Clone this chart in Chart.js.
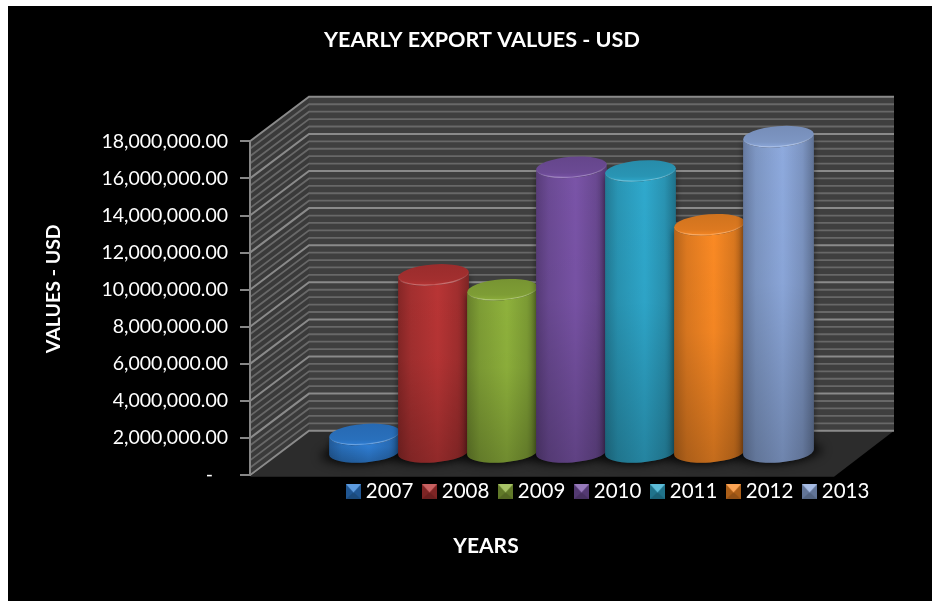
<!DOCTYPE html>
<html>
<head>
<meta charset="utf-8">
<title>Yearly export values</title>
<script src="https://cdn.jsdelivr.net/npm/chart.js@4/dist/chart.umd.js"></script>
<style>
  html, body { margin: 0; padding: 0; background: #fff; }
  #wrap { width: 932px; height: 601px; }
</style>
</head>
<body>
<div id="wrap"><canvas id="chart" width="932" height="601"></canvas></div>
<script>
const years = ['2007', '2008', '2009', '2010', '2011', '2012', '2013'];
const exportValues = [1000000, 9600000, 8800000, 15400000, 15200000, 12300000, 17050000];
const seriesColors = ['#2f7fd6', '#b93535', '#8fb23c', '#7a54a8', '#2fa9cd', '#fb8a24', '#8eaade'];
const axisTop = 18000000;
const axisStep = 2000000;
const minorPerMajor = 5;

// Oblique projection of the plot box: the back wall sits up and to the right of the front plane.
const DEPTH_X = 59;
const DEPTH_Y = 44.5;
const TILT = -4.5 * Math.PI / 180;
const CAP_RY = 10.5;

function mix(hex, other, t) {
  const a = parseInt(hex.slice(1), 16), b = parseInt(other.slice(1), 16);
  const c = s => Math.round(((a >> s) & 255) * (1 - t) + ((b >> s) & 255) * t);
  return `rgb(${c(16)},${c(8)},${c(0)})`;
}

// Bevelled square legend key: bright top facet, darker sides and bottom.
function legendKey(color) {
  const s = 15, c = document.createElement('canvas');
  c.width = s; c.height = s;
  const g = c.getContext('2d');
  const tri = (pts, fill) => {
    g.fillStyle = fill; g.beginPath();
    pts.forEach((p, i) => i ? g.lineTo(p[0], p[1]) : g.moveTo(p[0], p[1]));
    g.closePath(); g.fill();
  };
  const m = s / 2, my = s * 0.55;
  g.fillStyle = mix(color, '#000000', 0.35); g.fillRect(0, 0, s, s);
  tri([[0, 0], [m, my], [0, s]], mix(color, '#000000', 0.32));
  tri([[s, 0], [m, my], [s, s]], mix(color, '#000000', 0.32));
  tri([[0, s], [m, my], [s, s]], mix(color, '#000000', 0.42));
  tri([[0, 0], [s, 0], [m, my]], mix(color, '#ffffff', 0.22));
  return c;
}

const backdrop = {
  id: 'backdrop',
  beforeDraw(chart) {
    const { ctx, scales: { y }, chartArea: { left, right } } = chart;
    const y0 = y.getPixelForValue(0), yTop = y.getPixelForValue(axisTop);
    const bx = left + DEPTH_X;
    const bxr = right + DEPTH_X + 1;
    ctx.save();
    ctx.fillStyle = '#000';
    ctx.fillRect(8, 6, chart.width - 8, chart.height - 6);

    // back wall, side wall, floor
    ctx.fillStyle = '#3f3f3f';
    ctx.fillRect(bx, yTop - DEPTH_Y, bxr - bx, y0 - yTop);
    ctx.fillStyle = '#3a3a3a';
    ctx.beginPath();
    ctx.moveTo(left, yTop); ctx.lineTo(bx, yTop - DEPTH_Y);
    ctx.lineTo(bx, y0 - DEPTH_Y); ctx.lineTo(left, y0);
    ctx.closePath(); ctx.fill();
    ctx.fillStyle = '#2c2c2c';
    ctx.beginPath();
    ctx.moveTo(left, y0 + 1.5); ctx.lineTo(bx, y0 - DEPTH_Y);
    ctx.lineTo(bxr, y0 - DEPTH_Y); ctx.lineTo(right, y0 + 1.5);
    ctx.closePath(); ctx.fill();

    // minor lines first, major lines over them
    const minorStep = axisStep / minorPerMajor;
    for (let i = 0, v = 0; v <= axisTop + 1; i++, v = i * minorStep) {
      if (i % minorPerMajor === 0) continue;
      const py = y.getPixelForValue(v);
      ctx.strokeStyle = '#686868'; ctx.lineWidth = 1.8;
      ctx.beginPath(); ctx.moveTo(left, py); ctx.lineTo(bx, py - DEPTH_Y); ctx.lineTo(bxr, py - DEPTH_Y); ctx.stroke();
    }
    y.ticks.forEach(t => {
      const py = y.getPixelForValue(t.value);
      ctx.strokeStyle = '#8a8a8a'; ctx.lineWidth = 2;
      ctx.beginPath(); ctx.moveTo(left, py); ctx.lineTo(bx, py - DEPTH_Y); ctx.lineTo(bxr, py - DEPTH_Y); ctx.stroke();
    });
    ctx.restore();
  }
};

const cylinders = {
  id: 'cylinders',
  beforeDatasetDraw() { return false; },
  afterDatasetsDraw(chart) {
    const { ctx } = chart;
    const shapes = chart.data.datasets.map((ds, i) => {
      const bar = chart.getDatasetMeta(i).data[0];
      return {
        color: ds.backgroundColor,
        cx: bar.x + DEPTH_X / 2,
        top: bar.y - DEPTH_Y / 2,
        bottom: bar.base - DEPTH_Y / 2,
        rx: bar.width / 2 + 1
      };
    });

    // soft contact shadow on the floor
    shapes.forEach(s => {
      ctx.save();
      ctx.filter = 'blur(5px)';
      ctx.fillStyle = 'rgba(0,0,0,0.6)';
      ctx.beginPath();
      ctx.ellipse(s.cx, s.bottom + 1, s.rx + 9, CAP_RY + 1, TILT, 0, Math.PI * 2);
      ctx.fill();
      ctx.restore();
    });

    // left to right, so every cylinder overlaps its left neighbour
    shapes.forEach(s => {
      const cos = Math.cos(TILT), sin = Math.sin(TILT);
      const dx = s.rx * cos, dy = s.rx * sin;
      const side = () => {
        ctx.beginPath();
        ctx.ellipse(s.cx, s.top, s.rx, CAP_RY, TILT, Math.PI, 0, true);
        ctx.lineTo(s.cx + dx, s.bottom + dy);
        ctx.ellipse(s.cx, s.bottom, s.rx, CAP_RY, TILT, 0, Math.PI, false);
        ctx.closePath();
      };

      ctx.save();
      ctx.shadowColor = 'rgba(0,0,0,0.5)';
      ctx.shadowBlur = 6;
      const h = ctx.createLinearGradient(s.cx - s.rx, 0, s.cx + s.rx, 0);
      h.addColorStop(0, mix(s.color, '#000000', 0.28));
      h.addColorStop(0.18, mix(s.color, '#000000', 0.12));
      h.addColorStop(0.56, s.color);
      h.addColorStop(0.84, mix(s.color, '#000000', 0.13));
      h.addColorStop(1, mix(s.color, '#000000', 0.33));
      ctx.fillStyle = h;
      side(); ctx.fill();
      ctx.restore();

      const v = ctx.createLinearGradient(0, s.top, 0, s.bottom + CAP_RY);
      v.addColorStop(0, 'rgba(0,0,0,0)');
      v.addColorStop(0.45, 'rgba(0,0,0,0.03)');
      v.addColorStop(1, 'rgba(0,0,0,0.22)');
      ctx.fillStyle = v;
      side(); ctx.fill();

      // top cap with a lit front rim
      const cap = ctx.createLinearGradient(0, s.top - CAP_RY, 0, s.top + CAP_RY);
      cap.addColorStop(0, mix(s.color, '#000000', 0.17));
      cap.addColorStop(0.75, mix(s.color, '#000000', 0.12));
      cap.addColorStop(1, mix(s.color, '#000000', 0.02));
      ctx.fillStyle = cap;
      ctx.beginPath();
      ctx.ellipse(s.cx, s.top, s.rx, CAP_RY, TILT, 0, Math.PI * 2);
      ctx.fill();
      const rim = ctx.createLinearGradient(s.cx - s.rx, 0, s.cx + s.rx, 0);
      rim.addColorStop(0, 'rgba(255,255,255,0)');
      rim.addColorStop(0.5, mix(s.color, '#ffffff', 0.16));
      rim.addColorStop(1, 'rgba(255,255,255,0)');
      ctx.strokeStyle = rim;
      ctx.lineWidth = 1.2;
      ctx.beginPath();
      ctx.ellipse(s.cx, s.top, s.rx - 0.7, CAP_RY - 0.7, TILT, 0, Math.PI);
      ctx.stroke();
    });
  }
};

// Puts the title, axis name and legend where the sheet has them, independent of the plot's centre.
const placement = {
  id: 'placement',
  afterLayout(chart) {
    chart.boxes.forEach(b => {
      if (b.options && b.options.text === 'YEARLY EXPORT VALUES - USD') { b.left = 182; b.right = 782; }
      if (b.options && b.options.text === 'YEARS') { b.left = 186; b.right = 786; }
    });
    const lg = chart.legend;
    const pad = lg.options.labels.padding;
    lg.left = 351.5 - pad; lg.right = 925; lg.top = 481.5 - pad;
    lg.bottom = lg.top + 50;

    const y = chart.scales.y;
    if (!y._titleShifted) {
      y._titleShifted = true;
      const original = y.drawTitle;
      y.drawTitle = function () {
        const t = this.top, b = this.bottom;
        this.top -= 19.5; this.bottom -= 19.5;
        original.call(this);
        this.top = t; this.bottom = b;
      };
    }
  }
};

const FONT = 'Lato, "Open Sans", sans-serif';

new Chart(document.getElementById('chart'), {
  type: 'bar',
  data: {
    labels: ['Exports'],
    datasets: years.map((yr, i) => ({
      label: yr,
      data: [exportValues[i]],
      backgroundColor: seriesColors[i],
      barPercentage: 1,
      categoryPercentage: 0.827
    }))
  },
  options: {
    responsive: false,
    animation: false,
    layout: { padding: { left: 8, right: 98, top: 0, bottom: 0 } },
    plugins: {
      title: {
        display: true,
        text: 'YEARLY EXPORT VALUES - USD',
        color: '#fff',
        font: { family: FONT, size: 21.6, weight: 'bold', lineHeight: 1.2 },
        padding: { top: 27, bottom: 88.4 }
      },
      subtitle: {
        display: true,
        position: 'bottom',
        text: 'YEARS',
        color: '#fff',
        font: { family: FONT, size: 21, weight: 'bold', lineHeight: 1.2 },
        padding: { top: 13.5, bottom: 42.4 }
      },
      legend: {
        position: 'bottom',
        align: 'start',
        labels: {
          color: '#fff',
          font: { family: FONT, size: 20.5 },
          usePointStyle: true,
          pointStyleWidth: 4,
          padding: 14.2,
          generateLabels: chart => chart.data.datasets.map((ds, i) => ({
            text: ds.label,
            fontColor: '#fff',
            fillStyle: ds.backgroundColor,
            strokeStyle: ds.backgroundColor,
            lineWidth: 0,
            pointStyle: legendKey(ds.backgroundColor),
            datasetIndex: i
          }))
        }
      },
      tooltip: { enabled: false }
    },
    scales: {
      x: { display: false },
      y: {
        min: 0,
        max: axisTop,
        afterFit(scale) { scale.width = 242; },
        ticks: {
          stepSize: axisStep,
          color: '#fff',
          padding: 12,
          font: { family: FONT, size: 19.5 },
          callback: v => v === 0 ? '-   ' : v.toLocaleString('en-US', { minimumFractionDigits: 2, maximumFractionDigits: 2 })
        },
        grid: { drawOnChartArea: false, tickLength: 10, color: '#868686', lineWidth: 2 },
        border: { color: '#868686', width: 2 },
        title: {
          display: true,
          text: 'VALUES - USD',
          color: '#fff',
          font: { family: FONT, size: 19.5, weight: 'bold', lineHeight: 1.2 },
          padding: { top: 34.3, bottom: 0 }
        }
      }
    }
  },
  plugins: [backdrop, cylinders, placement]
});
</script>
</body>
</html>
